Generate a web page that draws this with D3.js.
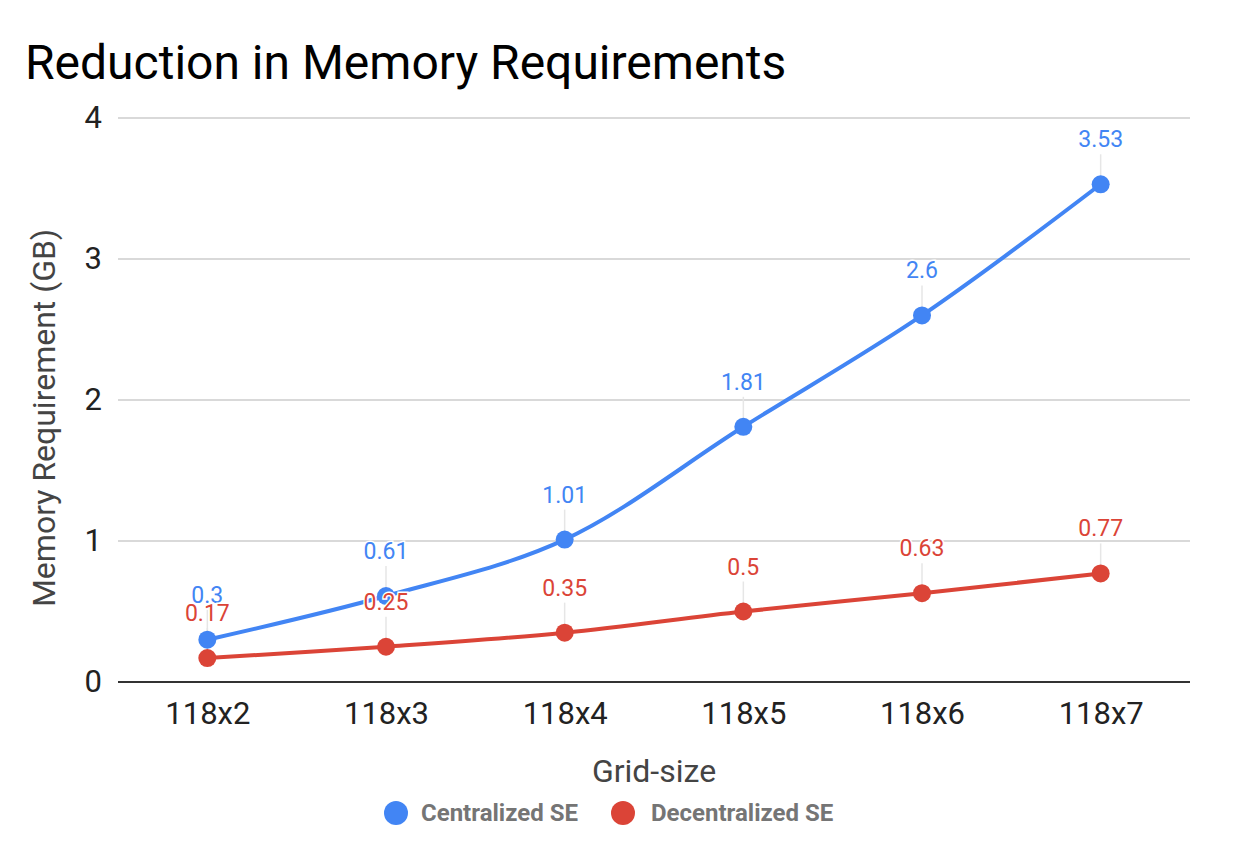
<!DOCTYPE html>
<html><head><meta charset="utf-8">
<script src="https://cdn.jsdelivr.net/npm/d3@7"></script>
<style>body{margin:0;background:#fff;font-family:Roboto,sans-serif}</style>
</head><body>
<svg id="c" width="1234" height="848"></svg>
<script>
const categories = ["118x2","118x3","118x4","118x5","118x6","118x7"];
const centralized = [0.3,0.61,1.01,1.81,2.6,3.53];
const decentralized = [0.17,0.25,0.35,0.5,0.63,0.77];
const yTicks = [0,1,2,3,4];
const seriesNames = ["Centralized SE","Decentralized SE"];
const colors = ["#4285F4","#DB4437"];

const svg = d3.select("#c");
const L=118,R=1190,T=118,B=682;
const x = d3.scalePoint().domain(categories).range([L,R]).padding(0.5);
const y = d3.scaleLinear().domain([0,4]).range([B,T]);

svg.append("text").attr("x",25).attr("y",79).attr("font-size",48).attr("fill","#000").text("Reduction in Memory Requirements");

// gridlines
svg.append("g").selectAll("line").data(yTicks.filter(d=>d>0)).join("line")
 .attr("x1",L).attr("x2",R).attr("y1",d=>y(d)).attr("y2",d=>y(d)).attr("stroke","#cccccc").attr("stroke-width",1.5);

const yAxis = d3.axisLeft(y).tickValues(yTicks).tickFormat(d3.format("d")).tickSize(0).tickPadding(16);
const gy = svg.append("g").attr("transform",`translate(${L},0)`).call(yAxis);
gy.select(".domain").remove();
gy.selectAll("text").attr("font-size",31).attr("fill","#222").attr("font-family","Roboto");

const xAxis = d3.axisBottom(x).tickSize(0).tickPadding(20);
const gx = svg.append("g").attr("transform",`translate(0,${B})`).call(xAxis);
gx.select(".domain").remove();
gx.selectAll("text").attr("font-size",31).attr("fill","#222").attr("font-family","Roboto");

svg.append("line").attr("x1",L).attr("x2",R).attr("y1",B).attr("y2",B).attr("stroke","#333").attr("stroke-width",2);

svg.append("text").attr("transform","translate(44,418) rotate(-90)").attr("text-anchor","middle").attr("dy","0.35em")
 .attr("font-size",32).attr("fill","#444").text("Memory Requirement (GB)");
svg.append("text").attr("x",654).attr("y",782).attr("text-anchor","middle").attr("font-size",32).attr("fill","#444").text("Grid-size");

const data = [centralized, decentralized];
const line = d3.line().x((d,i)=>x(categories[i])).y(d=>y(d)).curve(d3.curveCatmullRom.alpha(0.5));

data.forEach((vals,si)=>{
  const g = svg.append("g");
  g.selectAll("line.lead").data(vals).join("line")
   .attr("x1",(d,i)=>x(categories[i])).attr("x2",(d,i)=>x(categories[i]))
   .attr("y1",d=>y(d)).attr("y2",d=>y(d)-30).attr("stroke","#e6e6e6").attr("stroke-width",1.5);
});
data.forEach((vals,si)=>{
  const g = svg.append("g");
  g.append("path").datum(vals).attr("d",line).attr("fill","none").attr("stroke",colors[si]).attr("stroke-width",4);
  g.selectAll("circle").data(vals).join("circle")
   .attr("cx",(d,i)=>x(categories[i])).attr("cy",d=>y(d)).attr("r",9).attr("fill",colors[si]);
});
data.forEach((vals,si)=>{
  svg.append("g").selectAll("text").data(vals).join("text")
   .attr("x",(d,i)=>x(categories[i])).attr("y",d=>y(d)-37).attr("text-anchor","middle")
   .attr("font-size",23).attr("fill",colors[si])
   .attr("stroke","#fff").attr("stroke-width",3).attr("paint-order","stroke")
   .text(d=>d);
});

// legend
const lg = [[396,421],[623,651]];
seriesNames.forEach((n,i)=>{
  svg.append("circle").attr("cx",lg[i][0]).attr("cy",813).attr("r",12).attr("fill",colors[i]);
  svg.append("text").attr("x",lg[i][1]).attr("y",813).attr("dy","0.35em").attr("font-size",24).attr("font-weight","bold").attr("fill","#757575").text(n);
});
</script>
</body></html>
